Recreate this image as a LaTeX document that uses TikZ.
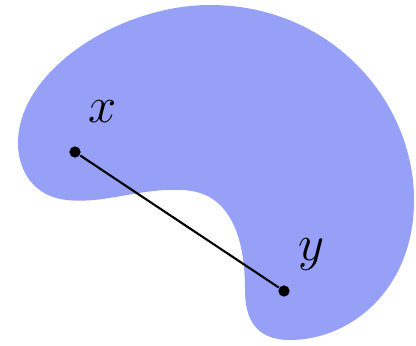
\documentclass[tikz,border=0pt]{standalone}
\usepackage{amsmath}
\definecolor{setblue}{RGB}{150,160,246}
\usetikzlibrary{positioning}

\begin{document}
\begin{tikzpicture}[x=0.01cm, y=-0.01cm,
    pt/.style={circle, fill=black, inner sep=0pt, minimum size=3.2pt},
    lbl/.style={font=\fontsize{13.5}{16}\selectfont}
  ]
    \useasboundingbox (0,0) rectangle (416,345);

    % Non-convex set
    \fill[setblue] (180,190)
        .. controls (140,188) and (105,204) .. (67,200)
        .. controls (35,197) and (18,172) .. (18,143)
        .. controls (18,70) and (120,5) .. (210,5)
        .. controls (330,5) and (414,100) .. (414,200)
        .. controls (414,290) and (350,340) .. (290,340)
        .. controls (255,340) and (245,318) .. (245,290)
        .. controls (245,228) and (225,190) .. cycle;

    % Points
    \node[pt] (x) at (75,152) {};
    \node[pt] (y) at (284,291) {};
    \node[lbl] (xl) at (103,112) {$x$};
    \node[lbl] (yl) at (311,255) {$y$};

    % Segment
    \draw[line width=0.6pt] (x) -- (y);
\end{tikzpicture}
\end{document}
